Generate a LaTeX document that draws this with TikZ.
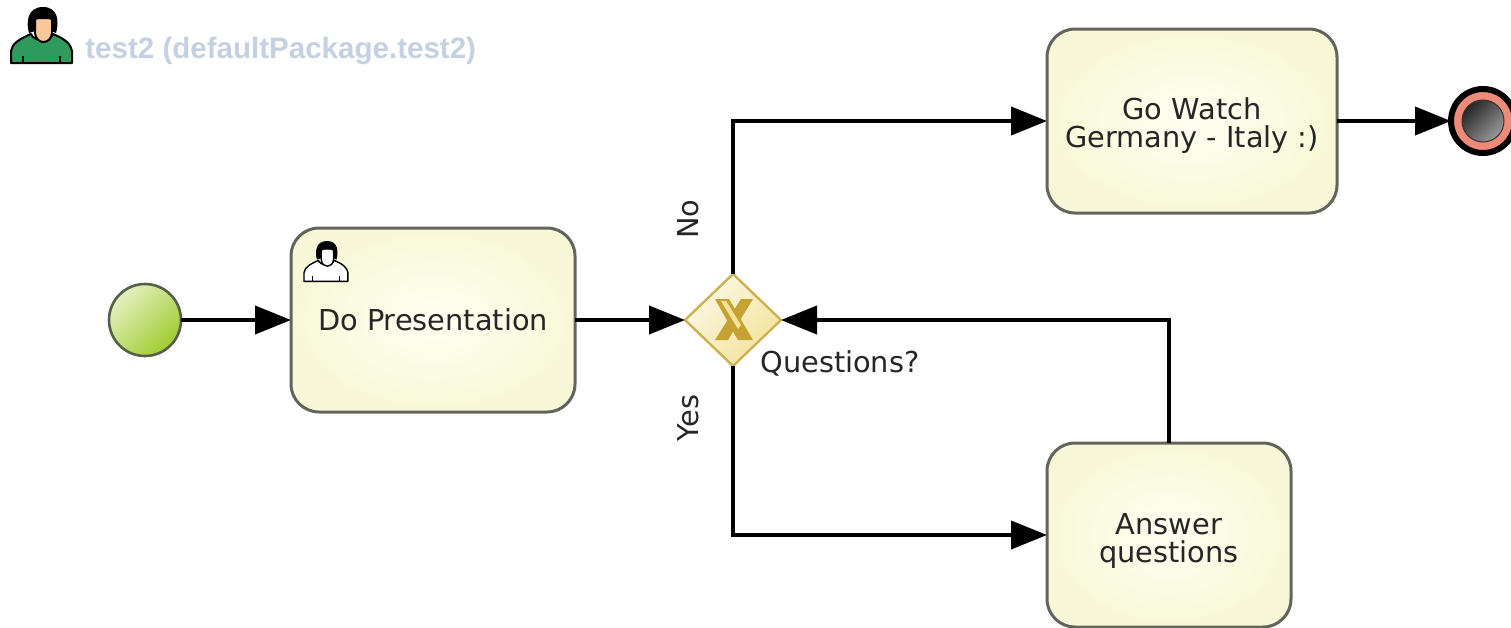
\documentclass[tikz,border=0pt]{standalone}
\usepackage{fontspec}
\setmainfont{DejaVu Sans}
\newfontfamily\ttlfont{Liberation Sans}
\usetikzlibrary{arrows.meta,shapes.geometric}
\definecolor{tkhi}{HTML}{FFFFF2}
\definecolor{tklo}{HTML}{F8F8D8}
\definecolor{tkline}{HTML}{64645E}
\definecolor{gold}{HTML}{C6A233}
\definecolor{goldhi}{HTML}{F3E39A}
\definecolor{skin}{HTML}{F9C89A}
\definecolor{shirt}{HTML}{2E9A5B}
\definecolor{ttlc}{HTML}{C5D0E0}
\definecolor{stlo}{HTML}{A0CC30}
\definecolor{sthi}{HTML}{E4F0C0}
\definecolor{stline}{HTML}{55604A}
\definecolor{enring}{HTML}{EE8A78}
\newcommand{\dn}[1]{\rule{0pt}{#1}}
\tikzset{tk/.append style={draw=tkline,line width=1.5pt,outer sep=0pt,rounded corners=14pt,inner color=tkhi,outer color=tklo,
    minimum height=92pt,inner sep=0pt,align=center,font=\fontsize{14.4}{14}\selectfont,text=black!85}}
\tikzset{fl/.append style={line width=2pt,-{Triangle[length=18pt,width=14pt]}}}
\tikzset{lb/.append style={inner sep=0pt,font=\fontsize{14.4}{14}\selectfont,text=black!85}}
\tikzset{pics/pers/.style n args={3}{code={
    \draw[fill=#2,line width=#3,line join=round] (0,56) -- (0,44) .. controls (1,37) and (8,32) .. (20,27) .. controls (23,35) and (39,35) .. (42,27) .. controls (54,32) and (60,37) .. (61,44) -- (61,56) -- cycle;
    \draw[line width=#3] (12,49) -- (12,56) (49,49) -- (49,56);
    \draw[fill=#1,line width=#3] (24,11) -- (41,11) -- (41,26) .. controls (40,38) and (25,38) .. (24,26) -- cycle;
    \fill[black] (18,26) .. controls (15,16) and (16,0) .. (32,0) .. controls (48,0) and (48,16) .. (45,26) -- (41,24) -- (41,14) .. controls (38,10) and (27,10) .. (24,14) -- (24,24) -- cycle;
}}}
\begin{document}
\begin{tikzpicture}[x=0.5pt,y=-0.5pt]
                \useasboundingbox (0,0) rectangle (1511,627);
                % \title
                \pic at (11,7) {pers={skin}{shirt}{1pt}};
                \node[anchor=west,inner sep=0pt,text=ttlc,font=\ttlfont\bfseries\fontsize{14.77}{15}\selectfont] (ttl) at (85,51) {test2 (defaultPackage.test2)};
                % \events
                \node[circle,draw=stline,line width=1.3pt,outer sep=0pt,minimum size=36pt,inner sep=0pt,top color=sthi,bottom color=stlo,shading angle=45] (st) at (145,320) {};
                \node[circle,draw=black,line width=3pt,outer sep=0pt,fill=enring,minimum size=32pt,inner sep=0pt] (en) at (1483,121) {};
                \node[circle,draw=black!80,line width=.5pt,minimum size=21pt,inner sep=0pt,top color=black!85,bottom color=black!40,shading angle=45] (enc) at (1483,121) {};
                % \tasks
                \node[tk,minimum width=142pt] (dp) at (433,320) {Do Presentation};
                \node[tk,minimum width=145pt] (gw) at (1192,121) {\dn{15pt}Go Watch\\Germany - Italy :)};
                \node[tk,minimum width=122pt] (aq) at (1169,535) {\dn{16pt}Answer\\questions};
                \pic[scale=.72] at (304,241) {pers={white}{white}{.7pt}};
                % \gateway
                \node[diamond,draw=gold!85,line width=1.2pt,outer sep=0pt,top color=goldhi!25,bottom color=goldhi,shading angle=45,minimum width=48pt,minimum height=46pt,inner sep=0pt] (qs) at (733,320) {};
                \fill[gold] (715,299) -- (729,299) -- (753,340) -- (738,340) -- cycle;
                \fill[gold] (753,299) -- (741,299) -- (715,340) -- (728,340) -- cycle;
                \fill[goldhi] (721,301) -- (726,301) -- (741,325) -- (738,329) -- cycle;
                \path (st) edge[fl] (dp);
                \path (dp) edge[fl] (qs);
                \path (gw) edge[fl] (en);
                \draw[fl] (qs.north) |- (gw.west);
                \draw[fl] (qs.south) |- (aq.west);
                \draw[fl] (aq.north) |- (qs.east);
                \node[lb,rotate=90] (lno) at (688,219) {No};
                \node[lb,rotate=90] (lyes) at (688,418) {Yes};
                \node[lb,anchor=west] (lqs) at (760,363) {Questions?};
            \end{tikzpicture}
\end{document}
